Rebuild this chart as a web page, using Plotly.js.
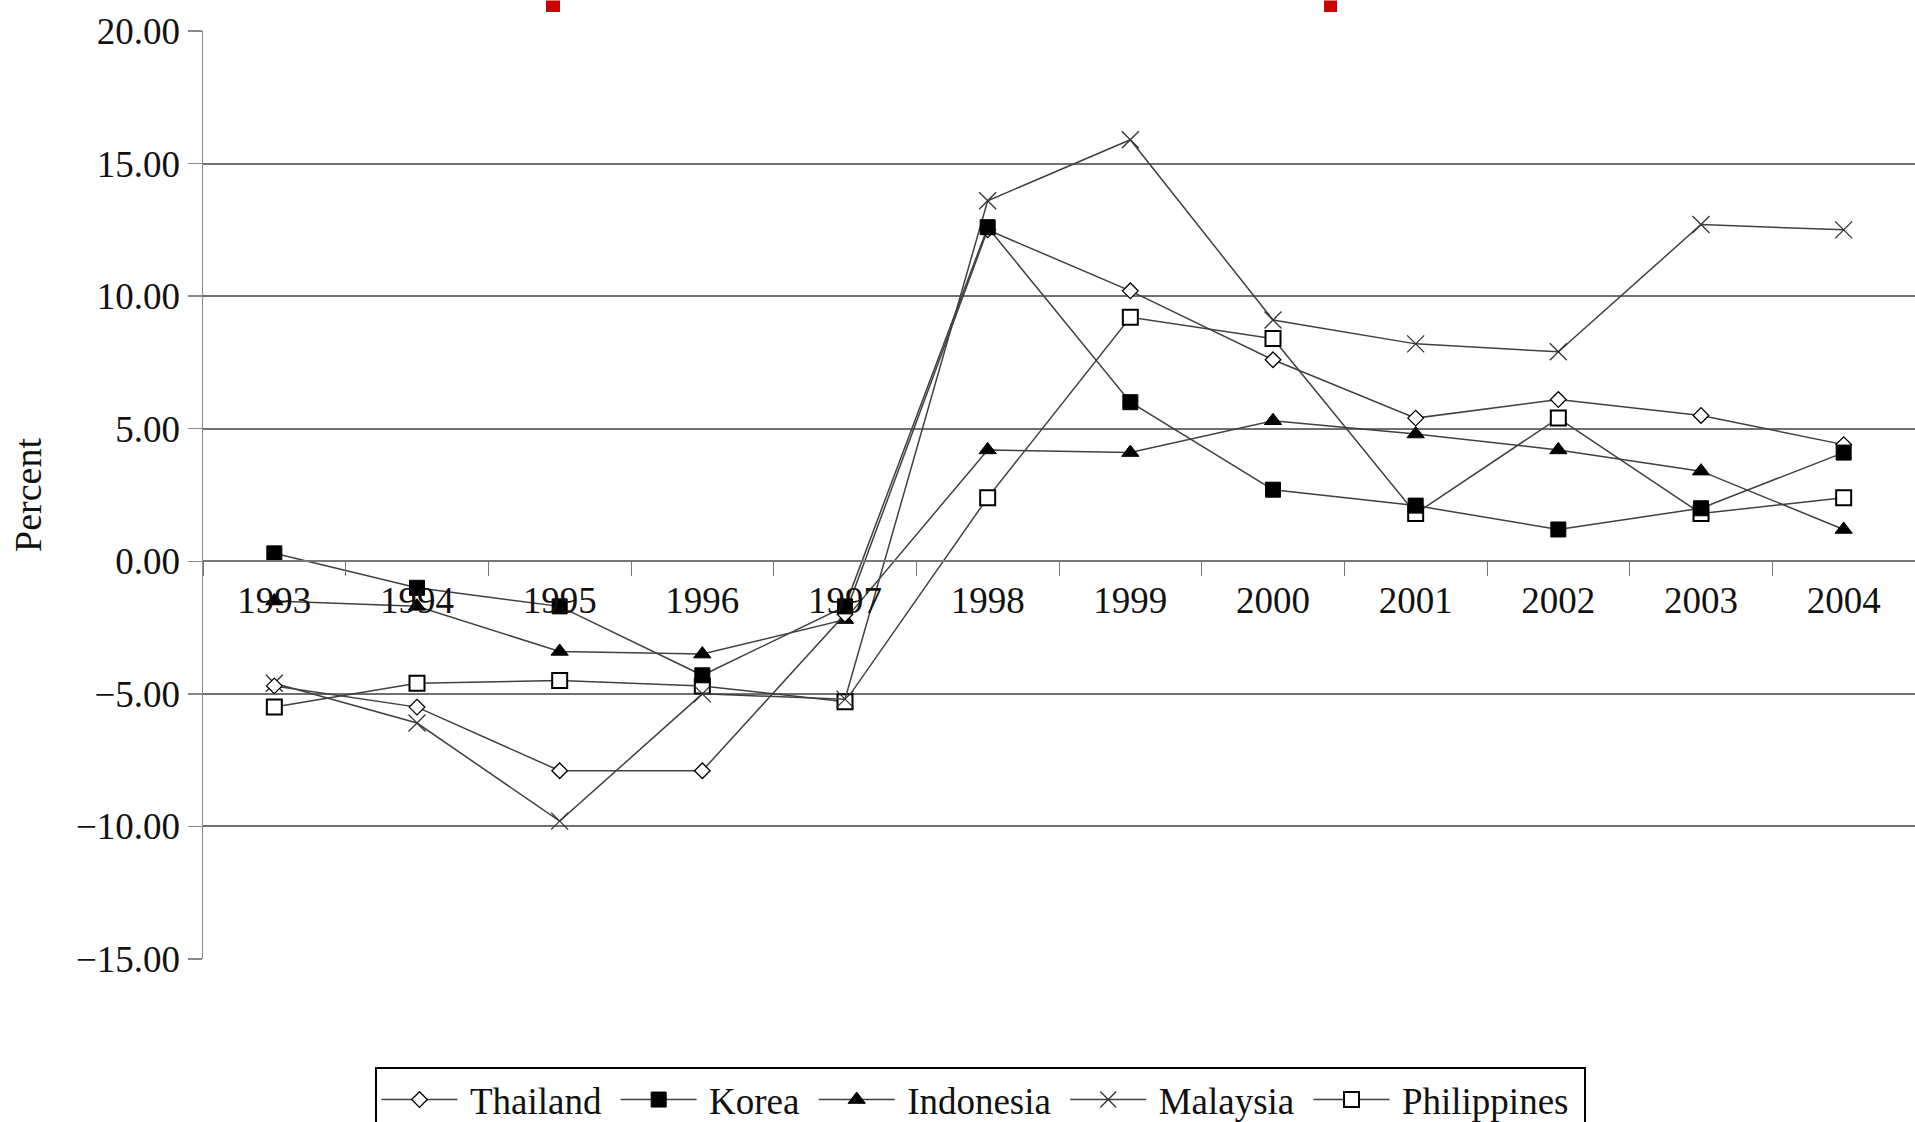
<!DOCTYPE html>
<html>
<head>
<meta charset="utf-8">
<script src="https://cdn.plot.ly/plotly-3.0.1.min.js"></script>
<style>html,body{margin:0;padding:0;background:#fff;}#chart{width:1915px;height:1122px;}</style>
</head>
<body>
<div id="chart"></div>
<script>
const years = ["1993","1994","1995","1996","1997","1998","1999","2000","2001","2002","2003","2004"];
const thailand    = [-4.7, -5.5, -7.9, -7.9, -2.0, 12.5, 10.2, 7.6, 5.4, 6.1, 5.5, 4.4];
const korea       = [0.3, -1.0, -1.7, -4.3, -1.7, 12.6, 6.0, 2.7, 2.1, 1.2, 2.0, 4.1];
const indonesia   = [-1.5, -1.7, -3.4, -3.5, -2.2, 4.2, 4.1, 5.3, 4.8, 4.2, 3.4, 1.2];
const malaysia    = [-4.6, -6.1, -9.8, -5.0, -5.2, 13.6, 15.9, 9.1, 8.2, 7.9, 12.7, 12.5];
const philippines = [-5.5, -4.6, -4.5, -4.7, -5.3, 2.4, 9.2, 8.4, 1.8, 5.4, 1.8, 2.4];

const seriesNames = ["Thailand","Korea","Indonesia","Malaysia","Philippines"];
const yTickVals = [-15,-10,-5,0,5,10,15,20];

const W = 1915, H = 1122;
const M = {l: 203, r: 0, t: 30.5, b: 163.3};
const yMin = -15, yMax = 20;

const serif = "Liberation Serif, Times New Roman, serif";
const lineColor = "#404040";

function tr(name, y, symbol, fill, size, lw, rank) {
  return {
    type: "scatter", mode: "lines+markers",
    name: "\u2009" + name + "\u00a0", x: years, y: y,
    line: {color: lineColor, width: 1.5},
    marker: {symbol: symbol, size: size, color: fill, line: {color: symbol === "x-thin" ? "#333" : "#000", width: lw}},
    legendrank: rank,
    cliponaxis: false
  };
}

const data = [
  tr(seriesNames[4], philippines, "square", "#fff", 15, 2, 5),
  tr(seriesNames[3], malaysia, "x-thin", "#333", 17, 1.3, 4),
  tr(seriesNames[2], indonesia, "triangle-up", "#000", 15, 1, 3),
  tr(seriesNames[0], thailand, "diamond", "#fff", 12, 1.3, 1),
  tr(seriesNames[1], korea, "square", "#000", 15, 1, 2)
];

const zeroFrac = (0 - yMin) / (yMax - yMin);

const plotW = W - M.l - M.r;
function px2paperX(px){ return (px - M.l) / plotW; }
function px2paperY(py){ return (H - M.b - py) / (H - M.t - M.b); }

const redMarks = [[546, 560], [1324, 1337]];
const shapes = redMarks.map(m => ({
  type: "rect", xref: "paper", yref: "paper",
  x0: px2paperX(m[0]), x1: px2paperX(m[1]),
  y0: px2paperY(11.5), y1: px2paperY(0),
  fillcolor: "#c80000", line: {width: 0}, layer: "above"
}));

const layout = {
  width: W, height: H,
  margin: M,
  paper_bgcolor: "#fff", plot_bgcolor: "#fff",
  font: {family: serif, color: "#111"},
  showlegend: true,
  legend: {
    orientation: "h", xref: "container", yref: "container",
    x: 980 / W, xanchor: "center", y: 1 - 1067 / H, yanchor: "top",
    font: {family: serif, size: 37, color: "#111"},
    bordercolor: "#000", borderwidth: 2, bgcolor: "#fff",
    itemwidth: 76, traceorder: "normal", itemclick: false
  },
  xaxis: {
    type: "category", range: [-0.5, 11.5],
    anchor: "free", position: zeroFrac,
    showline: true, linecolor: "#777", linewidth: 2,
    ticks: "outside", tickson: "boundaries", ticklen: 14, tickwidth: 1, tickcolor: "#777",
    ticklabelstandoff: 6,
    showgrid: false, zeroline: false,
    tickfont: {family: serif, size: 37, color: "#111"}
  },
  yaxis: {
    range: [yMin, yMax], tickvals: yTickVals, tickformat: ".2f",
    showline: true, linecolor: "#888", linewidth: 1.5,
    ticks: "outside", ticklen: 14, tickwidth: 1.5, tickcolor: "#888",
    showgrid: true, gridcolor: "#707070", gridwidth: 2,
    zeroline: false,
    tickfont: {family: serif, size: 37, color: "#111"},
    title: {text: "Percent", font: {family: serif, size: 38, color: "#111"}, standoff: 22}
  },
  shapes: shapes
};

Plotly.newPlot("chart", data, layout, {displayModeBar: false, staticPlot: true});
</script>
</body>
</html>
